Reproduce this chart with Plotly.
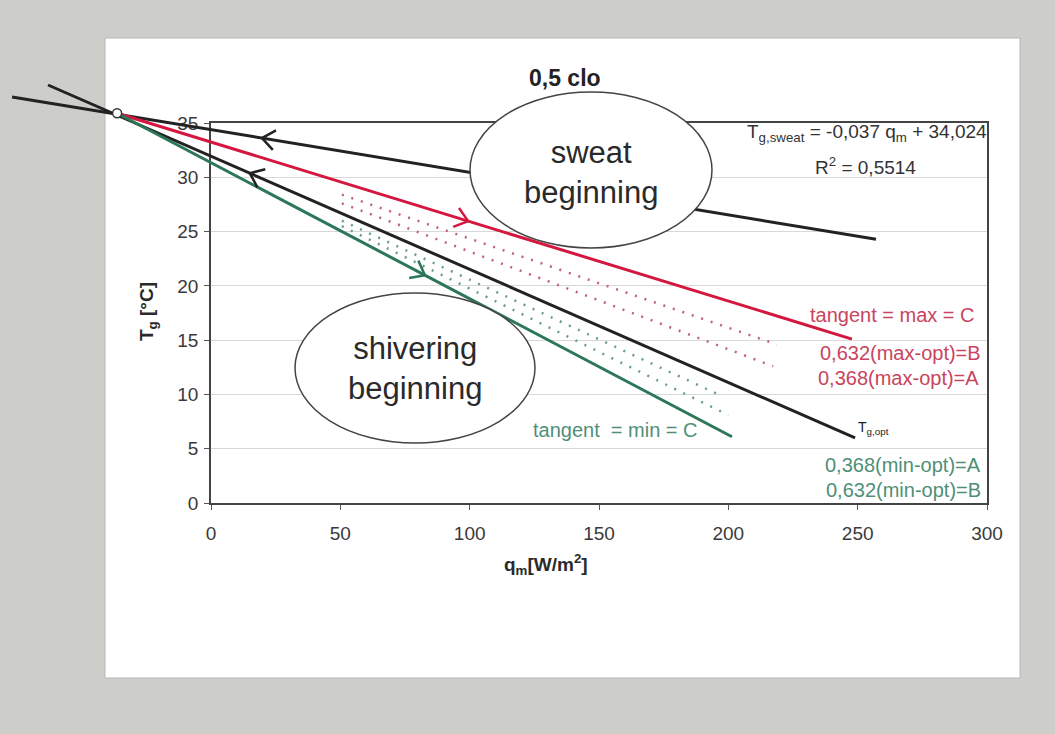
import math
import plotly.graph_objects as go

# ---------------- data ----------------
sweat_q = [-76.9, 257.1]
sweat_T = [37.4, 24.3]
opt_q = [-63.0, 249.0]
opt_T = [38.5, 6.0]
max_q = [-36.3, 247.8]
max_T = [35.9, 15.1]
min_q = [-36.3, 201.4]
min_T = [35.9, 6.1]

maxB_q = [50.6, 218.8]
maxB_T = [28.4, 14.6]
maxA_q = [50.6, 217.3]
maxA_T = [27.6, 12.6]
minA_q = [50.6, 198.0]
minA_T = [26.0, 9.8]
minB_q = [50.6, 200.0]
minB_T = [25.5, 8.1]

origin_q = [-36.3]
origin_T = [35.9]

# arrows: (line, q position of tip, direction)
arrow_marks = [("sweat", 19.7, -1), ("opt", 15.0, -1), ("max", 99.4, 1), ("min", 82.7, 1)]

x_ticks = [0, 50, 100, 150, 200, 250, 300]
y_ticks = [0, 5, 10, 15, 20, 25, 30, 35]

# ---------------- layout constants ----------------
W, H = 1055, 734
PL, PR, PT, PB = 211, 987, 123, 503  # plot area in pixels
XMIN, XMAX = 0, 300
YMIN, YMAX = 0, 35
kx = (PR - PL) / (XMAX - XMIN)
ky = (PB - PT) / (YMAX - YMIN)
x2range = [XMIN - PL / kx, XMAX + (W - PR) / kx]
y2range = [YMIN - (H - PB) / ky, YMAX + PT / ky]


def px(x):
    return x / W


def py(y):
    return 1 - y / H


BLACK = "#222222"
RED = "#d4173f"
GREEN = "#2b7757"
RED_T = "#c9445e"
GREEN_T = "#4f8f77"
FONT = "Liberation Sans, Arial, sans-serif"

lines = {
    "sweat": (sweat_q, sweat_T, BLACK),
    "opt": (opt_q, opt_T, BLACK),
    "max": (max_q, max_T, RED),
    "min": (min_q, min_T, GREEN),
}

fig = go.Figure()

# dummy trace on main axes so they render
fig.add_trace(go.Scatter(x=[None], y=[None], xaxis="x", yaxis="y", showlegend=False))

# dotted lines
for q, t, c in [(maxB_q, maxB_T, "#c0607a"), (maxA_q, maxA_T, "#c0607a"),
                (minA_q, minA_T, "#6a9c8c"), (minB_q, minB_T, "#6a9c8c")]:
    fig.add_trace(go.Scatter(x=q, y=t, mode="lines", xaxis="x2", yaxis="y2",
                             line=dict(color=c, width=2.5, dash="2px,8px"),
                             showlegend=False, hoverinfo="skip"))

# main lines
for name, (q, t, c) in lines.items():
    fig.add_trace(go.Scatter(x=q, y=t, mode="lines", xaxis="x2", yaxis="y2",
                             line=dict(color=c, width=3), showlegend=False))

# chevron arrows, derived from the lines
for name, qtip, d in arrow_marks:
    q, t, c = lines[name]
    slope = (t[1] - t[0]) / (q[1] - q[0])
    ttip = t[0] + slope * (qtip - q[0])
    sx, sy = d * kx, -d * slope * ky
    n = math.hypot(sx, sy)
    ux, uy = sx / n, sy / n
    L, ang = 16, math.radians(38)
    xs, ys = [], []
    for s in (1, -1):
        ca, sa = math.cos(s * ang), math.sin(s * ang)
        bx = -(ux * ca - uy * sa) * L
        by = -(ux * sa + uy * ca) * L
        xs.append(qtip + bx / kx)
        ys.append(ttip - by / ky)
    fig.add_trace(go.Scatter(x=[xs[0], qtip, xs[1]], y=[ys[0], ttip, ys[1]], mode="lines",
                             xaxis="x2", yaxis="y2", line=dict(color=c, width=2.5),
                             showlegend=False, hoverinfo="skip"))

# convergence point
fig.add_trace(go.Scatter(x=origin_q, y=origin_T, mode="markers", xaxis="x2", yaxis="y2",
                         marker=dict(size=9, color="white", line=dict(color="#333333", width=1.5)),
                         showlegend=False))

shapes = [
    dict(type="rect", xref="paper", yref="paper", x0=px(105), x1=px(1020), y0=py(678), y1=py(38),
         fillcolor="white", line=dict(color="#b8b8b8", width=1), layer="below"),
    dict(type="circle", xref="paper", yref="paper", x0=px(470), x1=px(712), y0=py(248), y1=py(92),
         fillcolor="white", line=dict(color="#444444", width=1.5), layer="above"),
    dict(type="circle", xref="paper", yref="paper", x0=px(295), x1=px(535), y0=py(443), y1=py(293),
         fillcolor="white", line=dict(color="#444444", width=1.5), layer="above"),
]


def ann(text, x, y, size=18, color="#333333", xanchor="center", bold=False, angle=0):
    return dict(text=f"<b>{text}</b>" if bold else text, x=px(x), y=py(y), xref="paper", yref="paper",
                showarrow=False, xanchor=xanchor, yanchor="middle", textangle=angle,
                font=dict(family=FONT, size=size, color=color))


annotations = [
    ann("0,5 clo", 565, 78, size=23, color="#222222", bold=True),
    ann("sweat<br>beginning", 591, 172, size=31, color="#2a2a2a"),
    ann("shivering<br>beginning", 415, 368, size=31, color="#2a2a2a"),
    ann("T<sub>g,sweat</sub> = -0,037 q<sub>m</sub> + 34,024", 989, 133, size=19, xanchor="right"),
    ann("R<sup>2</sup> = 0,5514", 865, 166, size=19),
    ann("tangent = max = C", 977, 315, size=20, color=RED_T, xanchor="right"),
    ann("0,632(max-opt)=B", 983, 353, size=20, color=RED_T, xanchor="right"),
    ann("0,368(max-opt)=A", 981, 378, size=20, color=RED_T, xanchor="right"),
    ann("T<sub>g,opt</sub>", 873, 428, size=14, color="#222222"),
    ann("0,368(min-opt)=A", 983, 465, size=20, color=GREEN_T, xanchor="right"),
    ann("0,632(min-opt)=B", 983, 490, size=20, color=GREEN_T, xanchor="right"),
    ann("tangent  = min = C", 531, 430, size=20, color=GREEN_T, xanchor="left"),
    # axis titles
    ann("q<sub>m</sub>[W/m<sup>2</sup>]", 546, 564, size=19, color="#2a2a2a", bold=True),
    ann("T<sub>g</sub> [°C]", 148, 312, size=19, color="#2a2a2a", bold=True, angle=-90),
]

fig.update_layout(
    width=W, height=H, autosize=False,
    margin=dict(l=0, r=0, t=0, b=0, pad=0, autoexpand=False),
    paper_bgcolor="#cdcdca",
    plot_bgcolor="rgba(0,0,0,0)",
    showlegend=False,
    font=dict(family=FONT, color="#333333"),
    xaxis=dict(domain=[px(PL), px(PR)], range=[XMIN, XMAX], anchor="y",
               tickmode="array", tickvals=x_ticks, ticktext=[str(v) for v in x_ticks],
               ticks="outside", ticklen=5, tickcolor="#555555", ticklabelstandoff=7,
               showline=True, linecolor="#444444", linewidth=1.5, mirror=True,
               showgrid=False, zeroline=False, automargin=False,
               tickfont=dict(family=FONT, size=19, color="#3a3a3a")),
    yaxis=dict(domain=[py(PB), py(PT)], range=[YMIN, YMAX], anchor="x",
               tickmode="array", tickvals=y_ticks, ticktext=[str(v) for v in y_ticks],
               ticks="outside", ticklen=5, tickcolor="#555555", ticklabelstandoff=2,
               showline=True, linecolor="#444444", linewidth=1.5, mirror=True,
               showgrid=True, gridcolor="#d8d8d8", gridwidth=1, zeroline=False, automargin=False,
               tickfont=dict(family=FONT, size=19, color="#3a3a3a")),
    xaxis2=dict(domain=[0, 1], range=x2range, anchor="y2", visible=False, fixedrange=True,
                automargin=False),
    yaxis2=dict(domain=[0, 1], range=y2range, anchor="x2", visible=False, fixedrange=True,
                automargin=False),
    shapes=shapes,
    annotations=annotations,
)

fig.write_html(
    "out.html",
    default_width=f"{W}px",
    default_height=f"{H}px",
    config={"responsive": False, "displayModeBar": False},
    post_script=("document.documentElement.style.margin='0';"
                 "document.body.style.margin='0';document.body.style.padding='0';"
                 "document.body.style.overflow='hidden';"
                 "document.documentElement.style.overflow='hidden';"),
)
